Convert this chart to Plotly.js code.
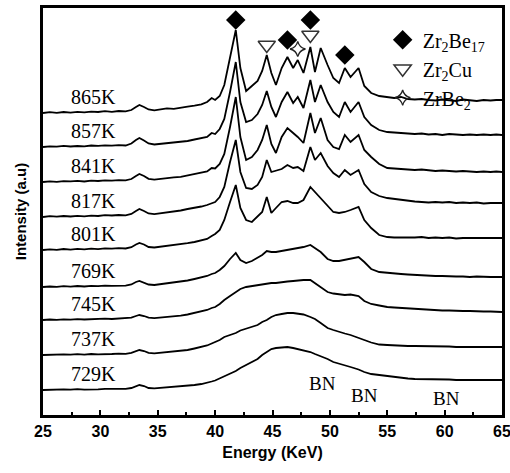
<!DOCTYPE html>
<html>
<head>
<meta charset="utf-8">
<script src="https://cdn.plot.ly/plotly-3.0.1.min.js"></script>
<style>html,body{margin:0;padding:0;background:#fff;}#chart{width:510px;height:473px;}</style>
</head>
<body>
<div id="chart"></div>
<script>
// Energy grid (KeV)
const energy = [25,25.6,26.2,26.8,27.4,28,28.6,29.2,29.8,30.4, 31,31.6,32.2,32.7,33.1,33.4,33.8,34.2,34.7,35.2, 35.8,36.4,37,37.6,38.2,38.8,39.3,39.7,40.0,40.4, 40.8,41.3,41.8,42.2,42.7,43.2,43.7,44.1,44.5,44.9, 45.3,45.8,46.3,46.8,47.2,47.7,48.3,48.7,49.2,49.8, 50.3,50.8,51.3,51.8,52.5,53.0,53.6,54.3,55.0,55.6, 56.2,56.8,57.4,58.0,58.6,59.2,59.8,60.4,61.0,61.6, 62.2,62.8,63.4,64.0,64.5,65];

// Intensity above each pattern's own baseline (a.u.)
const i865 = [0,0.8,0.2,1,0.4,1.2,0.6,1.4,1,1.8, 1.2,2,1.6,3,6,8,6,3.5,2.6,3.4, 4.6,4.2,5.6,6.4,7.4,8.6,11,15,13,17, 28,55,83,45,22,27,32,42,58,40, 28,45,56,45,53,40,66,41,65,48, 35,30,45,36,45,27,20,17,16,15, 16,14,13.5,14,13,12.5,13.5,13,12,13.5, 12.5,12,13,12.5,13,13];
const i857 = [0,0.6,0.3,1.1,0.5,1,0.7,1.5,1.1,1.6, 1.3,1.8,1.5,3.5,7,9,6.5,3.5,2.5,3, 4,4.5,5,6,7.5,8.5,10,14,13,18, 28,55,85,45,25,27,33,42,56,40, 30,45,55,44,50,39,67,45,62,45, 35,30,45,35,45,30,22,17,15,14.5, 14,13.5,13,13.5,12.5,13,12,13,12.5,12, 12.5,12,12.5,12,12.5,12];
const i841 = [0,0.7,0.2,0.9,0.6,1.1,0.5,1.3,1,1.7, 1.4,1.9,1.6,3,6,8,6,3.2,2.4,3.2, 4,4.6,5.2,6.5,7.5,9,10.5,14,13.5,18, 28,55,85,45,22,25,32,42,57,38, 29,45,54,49,45,39,69,49,64,42, 35,33,47,40,47,32,25,18,14,13.5, 13,12.5,12,12.5,11.5,11,11.5,11,10.5,11, 10.5,10,10.5,10,10.5,10];
const i817 = [0,0.8,0.3,1,0.5,1.2,0.7,1.4,1,1.8, 1.5,2,1.7,3,6,8,6,3.5,2.8,3.5, 4.5,5.5,6.5,8,9,10.5,12,14,15,20, 30,55,77,45,29,28,32,40,57,45, 46,48,52,49,50,46,70,57,64,51, 44,40,47,42,47,33,25,21,19,18, 17,16,15.5,15,14.5,15,14.5,15,14,14.5, 14,14.5,13.5,14,14,14];
const i801 = [0,0.6,0.2,1,0.4,1.1,0.6,1.3,0.9,1.6, 1.3,1.8,1.5,2.8,5.5,7,5.5,3,2.5,3.2, 4,4.8,5.5,6.8,8,9.5,11,14,16,20, 30,48,65,42,30,28,33,38,53,37, 42,48,49,47,47,50,63,58,52,44, 38,37,38,40,43,30,22,15,13,12.5, 12.5,12,12.5,13,12,12.5,12,12.5,11.5,12, 12,11.5,12,12,11.5,12];
const i769 = [0,0.5,0.2,0.8,0.4,1,0.5,1.2,0.8,1.4, 1.2,1.6,1.4,2.5,5,6,4.5,2.5,2,2.8, 3.5,4.2,5,6.5,8,9.5,11,13,14,17, 21,28,34,27,24,26,29,32,36,35, 35,36,37,38,39,40,42,39,35,28, 26,26,27,28,30,25,18,15,14,13.5, 13,12.5,12,11.5,11.5,11,11,10.5,10.5,10.5, 10,10.5,10,10,10,10];
const i745 = [0,0.5,0.1,0.7,0.3,0.9,0.5,1,0.8,1.3, 1,1.5,1.3,2.3,4,5,4,2.3,1.8,2.3, 3,3.6,4.3,5.5,7,8.5,10,12,13,16, 20,24,28,31,33,34,35,36,36.5,37, 37,38,38.5,39,39.5,40,40,37,33,28, 26.5,25.5,25,25.5,24,19,16,14.5,13,12.5, 12,11.5,11,10.5,10,10,9.5,9.5,9,9, 9,8.5,8.5,8.5,8,8];
const i737 = [0,0.4,0.1,0.7,0.3,0.8,0.4,1,0.7,1.2, 1,1.4,1.2,2.2,4,5,4,2.2,1.7,2.2, 2.8,3.4,4.1,5,6.5,8,9.5,11.5,13,15, 18,20,22,24.5,26.5,28,30,33,35,38, 40,41,42,42,41.5,40.5,38,36,32,27, 25,23,21.5,20,17.5,15,12.5,10.5,10,9.5, 9.5,9,9,9,9,8.5,8.5,8.5,8,8, 8,8,8,8,8,8];
const i729 = [0,0.4,0.1,0.6,0.3,0.8,0.4,0.9,0.7,1.1, 0.9,1.3,1.1,2,4,5,4,2,1.6,2, 2.5,3,3.6,4.2,5,6,7,8.5,9.5,11.5, 13.5,16,19,22,25,28,31,35,38,41, 42,42.5,43,42,41,40,38,36,34,31, 28,26.5,24.5,23,20.5,18,16,15,13.5,12.5, 12,11.5,11,11,11,10.5,10.5,10.5,10,10, 10,10,10,10,10,10];

const tempLabels = ['865K','857K','841K','817K','801K','769K','745K','737K','729K'];
const patterns = [i865,i857,i841,i817,i801,i769,i745,i737,i729];
const stackOffsets = [302,268,233,198,165,128,95,60,25];

// Phase markers (peak energy, marker height)
const zr2be17E = [41.8,46.3,48.3,51.3];
const zr2be17Y = [395,375,395,360];
const zr2cuE = [44.5,48.3];
const zr2cuY = [370,380];
const zrbe2E = [47.2];
const zrbe2Y = [366];

const bnE = [49.35,53.05,60.2];
const bnY = [32,20,17];

const traces = [];
patterns.forEach((p,k)=>{
  traces.push({
    x: energy, y: p.map(v=>v+stackOffsets[k]),
    type:'scatter', mode:'lines', line:{color:'#000', width:1.8},
    showlegend:false, hoverinfo:'skip'
  });
});
traces.push({x:zr2be17E, y:zr2be17Y, type:'scatter', mode:'markers', name:'Zr<sub>2</sub>Be<sub>17</sub>',
  marker:{symbol:'diamond', size:15, color:'#000'}, cliponaxis:false});
traces.push({x:zr2cuE, y:zr2cuY, type:'scatter', mode:'markers', name:'Zr<sub>2</sub>Cu',
  marker:{symbol:'triangle-down-open', size:15, color:'#333', line:{width:1.5}}, cliponaxis:false});
traces.push({x:zrbe2E, y:zrbe2Y, type:'scatter', mode:'markers', name:'ZrBe<sub>2</sub>',
  marker:{symbol:'star-diamond-open', size:11, color:'#222', line:{width:1.3}}, cliponaxis:false});

const annotations = tempLabels.map((t,k)=>({
  x:29.36, y:stackOffsets[k]+16, text:t, showarrow:false,
  font:{family:'Liberation Serif, Times New Roman, serif', size:20, color:'#000'}
}));
bnE.forEach((e,k)=>annotations.push({x:e, y:bnY[k], text:'BN', showarrow:false,
  font:{family:'Liberation Serif, Times New Roman, serif', size:19, color:'#000'}}));

const layout = {
  width:510, height:473,
  margin:{l:43, r:8, t:8, b:58},
  paper_bgcolor:'#fff', plot_bgcolor:'#fff',
  showlegend:true,
  legend:{x:0.74, y:0.97, xanchor:'left', yanchor:'top', bgcolor:'rgba(0,0,0,0)',
    font:{family:'Liberation Serif, Times New Roman, serif', size:20, color:'#000'}},
  xaxis:{range:[25,65], tick0:25, dtick:5, ticks:'inside', ticklen:5, tickwidth:2, tickcolor:'#000',
    ticklabeloverflow:'allow',
    showline:true, linewidth:3, linecolor:'#000', mirror:true, showgrid:false, zeroline:false,
    minor:{dtick:2.5, ticks:'inside', ticklen:3, tickwidth:2, tickcolor:'#000', showgrid:false},
    tickfont:{family:'Liberation Sans, Arial, sans-serif', size:16, weight:'bold', color:'#000'},
    title:{text:'Energy (KeV)', font:{family:'Liberation Sans, Arial, sans-serif', size:16, weight:'bold', color:'#000'}, standoff:8}},
  yaxis:{range:[0,407], showticklabels:false, ticks:'', showline:true, linewidth:3, linecolor:'#000', mirror:true,
    showgrid:false, zeroline:false,
    title:{text:'Intensity (a.u)', font:{family:'Liberation Sans, Arial, sans-serif', size:15, weight:'bold', color:'#000'}, standoff:10}},
  annotations:annotations
};
Plotly.newPlot('chart', traces, layout, {staticPlot:true, displayModeBar:false});
</script>
</body>
</html>
